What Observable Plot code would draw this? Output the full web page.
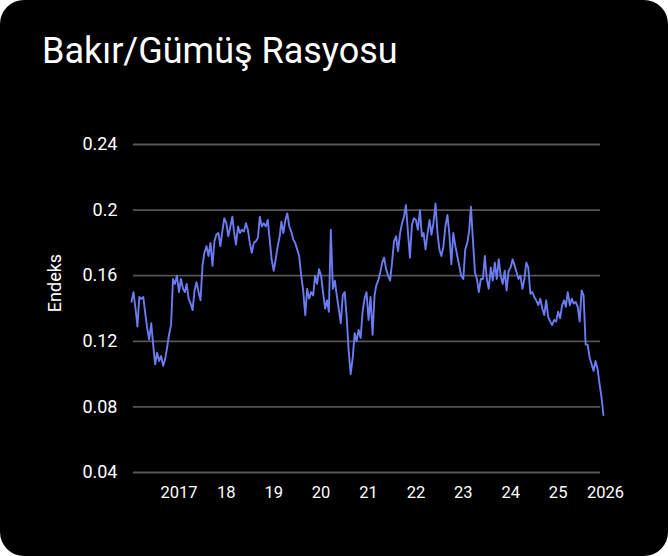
<!DOCTYPE html>
<html><head><meta charset="utf-8">
<script src="https://cdn.jsdelivr.net/npm/d3@7"></script>
<script src="https://cdn.jsdelivr.net/npm/@observablehq/plot@0.6"></script>
<style>
html,body{margin:0;padding:0;background:#fff;}
#card{position:relative;width:668px;height:556px;background:#000;border-radius:24px;overflow:hidden;font-family:Roboto,sans-serif;color:#fff;}
#title{position:absolute;left:42px;top:33px;font-size:36px;line-height:36px;white-space:nowrap;}
#ylabel{position:absolute;left:5px;top:274px;width:100px;text-align:center;font-size:18px;line-height:18px;transform:rotate(-90deg);}
#chart{position:absolute;left:0;top:100px;}
</style></head>
<body>
<div id="card">
  <div id="title">Bakır/Gümüş Rasyosu</div>
  <div id="ylabel">Endeks</div>
  <div id="chart"></div>
</div>
<script>
const years = [2016,2017,2018,2019,2020,2021,2022,2023,2024,2025];
const v2016 = [0.144,0.150,0.140,0.129,0.147,0.146,0.147,0.137,0.128,0.121,0.131,0.118,0.106,0.113,0.108,0.111,0.105,0.109,0.116,0.124,0.130,0.158,0.155,0.160];
const v2017 = [0.150,0.158,0.152,0.150,0.155,0.146,0.143,0.139,0.151,0.156,0.150,0.145,0.166,0.174,0.178,0.172,0.180,0.166,0.181,0.185,0.186,0.178,0.187,0.195];
const v2018 = [0.192,0.184,0.190,0.196,0.187,0.179,0.190,0.186,0.188,0.187,0.192,0.188,0.180,0.174,0.180,0.181,0.183,0.196,0.190,0.192,0.190,0.194,0.182,0.170];
const v2019 = [0.163,0.170,0.178,0.184,0.193,0.186,0.194,0.198,0.190,0.187,0.182,0.180,0.176,0.172,0.160,0.151,0.136,0.152,0.146,0.150,0.148,0.160,0.155,0.164];
const v2020 = [0.160,0.150,0.140,0.145,0.138,0.188,0.152,0.157,0.148,0.140,0.131,0.148,0.150,0.135,0.114,0.100,0.110,0.125,0.120,0.127,0.122,0.138,0.146,0.150];
const v2021 = [0.133,0.147,0.124,0.148,0.154,0.157,0.162,0.168,0.171,0.164,0.160,0.157,0.168,0.181,0.184,0.175,0.186,0.192,0.196,0.203,0.186,0.171,0.191,0.195];
const v2022 = [0.194,0.188,0.200,0.184,0.186,0.176,0.186,0.194,0.185,0.192,0.204,0.186,0.176,0.172,0.178,0.190,0.197,0.185,0.167,0.186,0.178,0.172,0.166,0.160];
const v2023 = [0.158,0.176,0.180,0.188,0.202,0.182,0.162,0.158,0.150,0.158,0.158,0.172,0.158,0.152,0.165,0.157,0.168,0.158,0.170,0.160,0.155,0.163,0.151,0.163];
const v2024 = [0.165,0.170,0.166,0.162,0.158,0.160,0.152,0.158,0.168,0.165,0.149,0.150,0.147,0.145,0.142,0.146,0.140,0.136,0.145,0.135,0.132,0.130,0.133,0.132];
const v2025 = [0.138,0.134,0.142,0.145,0.141,0.150,0.142,0.146,0.143,0.144,0.141,0.132,0.151,0.148,0.118,0.118,0.110,0.106,0.102,0.108,0.103,0.094,0.086,0.075];

const yTickValues = [0.04,0.08,0.12,0.16,0.2,0.24];
const yTickLabels = ["0.04","0.08","0.12","0.16","0.2","0.24"];
const xTickYears = [2017,2018,2019,2020,2021,2022,2023,2024,2025,2026];
const xTickLabels = ["2017","18","19","20","21","22","23","24","25","2026"];

const series = [v2016,v2017,v2018,v2019,v2020,v2021,v2022,v2023,v2024,v2025];
const data = [];
series.forEach((vals, k) => {
  vals.forEach((v, i) => {
    data.push({date: new Date(Date.UTC(years[k], Math.floor(i/2), i % 2 ? 16 : 1)), value: v});
  });
});
const xTicks = xTickYears.map(y => new Date(Date.UTC(y,0,1)));

const chart = Plot.plot({
  width: 668, height: 420,
  marginLeft: 131, marginRight: 63, marginTop: 44, marginBottom: 48,
  style: {background: "transparent", color: "#fff", fontFamily: "Roboto, sans-serif", fontSize: "16px", overflow: "visible"},
  x: {type: "utc", domain: [new Date(Date.UTC(2016,0,1)), new Date(Date.UTC(2026,0,1))]},
  y: {domain: [0.04, 0.24]},
  marks: [
    Plot.gridY(yTickValues, {stroke: "#555", strokeOpacity: 1, strokeWidth: 1.8, insetLeft: 2, insetRight: 5}),
    Plot.axisY(yTickValues, {tickSize: 0, tickPadding: 14, fontSize: 18, label: null,
      tickFormat: d => yTickLabels[yTickValues.indexOf(d)]}),
    Plot.axisX(xTicks, {tickSize: 0, tickPadding: 14, fontSize: 16.5, label: null,
      tickFormat: d => xTickLabels[xTickYears.indexOf(d.getUTCFullYear())]}),
    Plot.line(data, {x: "date", y: "value", stroke: "#6b7bf0", strokeWidth: 1.9})
  ]
});
document.getElementById("chart").appendChild(chart);
</script>
</body></html>
